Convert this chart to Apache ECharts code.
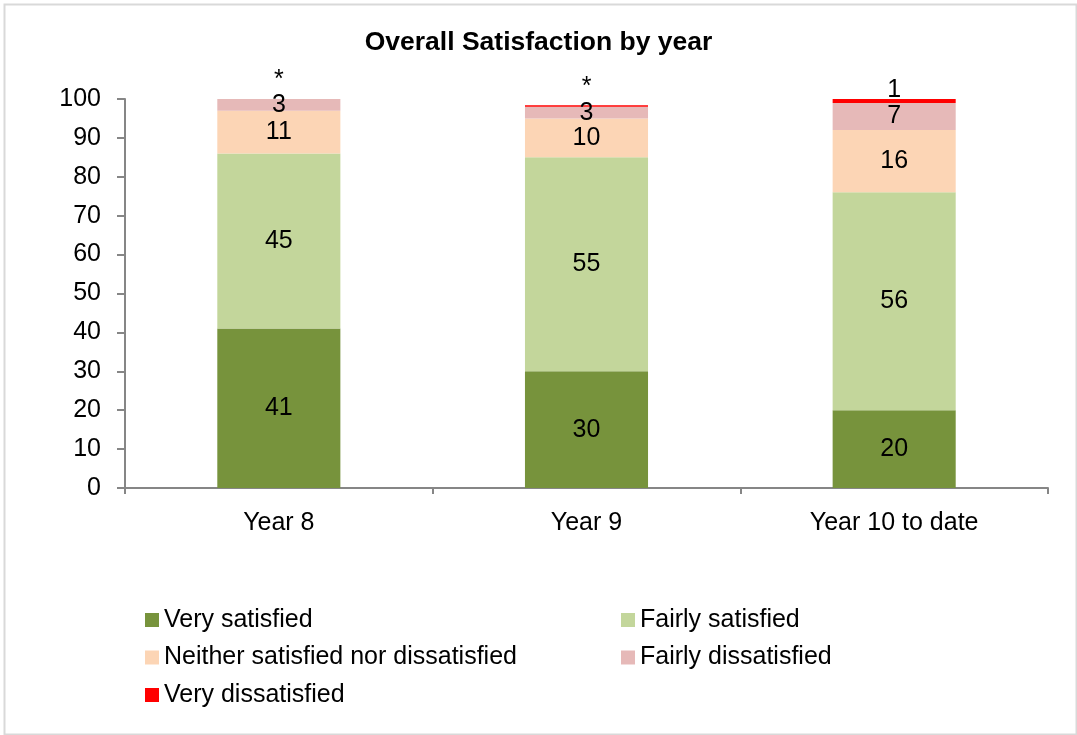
<!DOCTYPE html>
<html>
<head>
<meta charset="utf-8">
<title>Overall Satisfaction by year</title>
<script src="https://cdn.jsdelivr.net/npm/echarts@6/dist/echarts.min.js"></script>
<style>
  html, body { margin: 0; padding: 0; background: #ffffff; }
  #chart { width: 1077px; height: 735px; }
</style>
</head>
<body>
<div id="chart"></div>
<script>
// Survey results: percentage of respondents per satisfaction level, by year
const categories = ['Year 8', 'Year 9', 'Year 10 to date'];
const seriesNames = [
  'Very satisfied',
  'Fairly satisfied',
  'Neither satisfied nor dissatisfied',
  'Fairly dissatisfied',
  'Very dissatisfied'
];
const verySatisfied = [41, 30, 20];
const fairlySatisfied = [45, 55, 56];
const neitherSatisfied = [11, 10, 16];
const fairlyDissatisfied = [3, 3, 7];
// Below 0.5% is shown as an asterisk
const veryDissatisfied = [0.4, 0.4, 1];
const yTicks = [0, 10, 20, 30, 40, 50, 60, 70, 80, 90, 100];

const colors = ['#77933C', '#C3D69B', '#FCD5B5', '#E6B9B8', '#FF0000'];
const FONT = 'Liberation Sans, Arial, sans-serif';
const FS = 25;

const valueSets = [verySatisfied, fairlySatisfied, neitherSatisfied, fairlyDissatisfied, veryDissatisfied];

function smallLabel(v) {
  return v < 0.5 ? '*' : String(Math.round(v));
}

const series = valueSets.map((values, i) => {
  const isTop = i === valueSets.length - 1;
  return {
    name: seriesNames[i],
    type: 'bar',
    stack: 'total',
    barWidth: '40%',
    itemStyle: { color: colors[i] },
    label: {
      show: true,
      position: isTop ? 'top' : 'inside',
      distance: isTop ? -4 : 5,
      color: '#000000',
      fontFamily: FONT,
      fontSize: FS,
      formatter: (p) => smallLabel(p.value)
    },
    data: values.map((v) => {
      if (isTop && v < 0.5) {
        return { value: v, label: { offset: [0, -10] } };
      }
      return v;
    })
  };
});

const chart = echarts.init(document.getElementById('chart'), null, { renderer: 'canvas' });

const legendText = { fontFamily: FONT, fontSize: FS, color: '#000000', lineHeight: 28 };
const legendBase = {
  orient: 'vertical',
  top: 606,
  padding: 0,
  itemWidth: 14,
  itemHeight: 14,
  itemGap: 9.5,
  icon: 'rect',
  selectedMode: false,
  textStyle: legendText
};

chart.setOption({
  animation: false,
  backgroundColor: '#ffffff',
  color: colors,
  title: {
    text: 'Overall Satisfaction by year',
    left: 'center',
    top: 24,
    textStyle: { fontFamily: FONT, fontSize: 26.5, fontWeight: 'bold', color: '#000000' }
  },
  graphic: [{
    type: 'rect',
    left: 2,
    top: 2,
    shape: { width: 1072, height: 730 },
    style: { fill: 'none', stroke: '#d9d9d9', lineWidth: 2 },
    silent: true,
    z: -10
  }],
  legend: [
    Object.assign({}, legendBase, {
      data: [seriesNames[0], seriesNames[2], seriesNames[4]],
      left: 145
    }),
    Object.assign({}, legendBase, {
      data: [seriesNames[1], seriesNames[3]],
      left: 621
    })
  ],
  grid: { left: 125, right: 29, top: 99, bottom: 247, containLabel: false },
  xAxis: {
    type: 'category',
    data: categories,
    axisLine: { lineStyle: { color: '#868686', width: 2 } },
    axisTick: { show: true, length: 6, lineStyle: { color: '#868686', width: 2 } },
    axisLabel: { fontFamily: FONT, fontSize: FS, color: '#000000', margin: 23 }
  },
  yAxis: {
    type: 'value',
    min: yTicks[0],
    max: yTicks[yTicks.length - 1],
    interval: yTicks[1] - yTicks[0],
    axisLine: { show: true, lineStyle: { color: '#868686', width: 2 } },
    axisTick: { show: true, length: 8, lineStyle: { color: '#868686', width: 2 } },
    splitLine: { show: false },
    axisLabel: { fontFamily: FONT, fontSize: FS, color: '#000000', margin: 24 }
  },
  series: series
});
</script>
</body>
</html>
